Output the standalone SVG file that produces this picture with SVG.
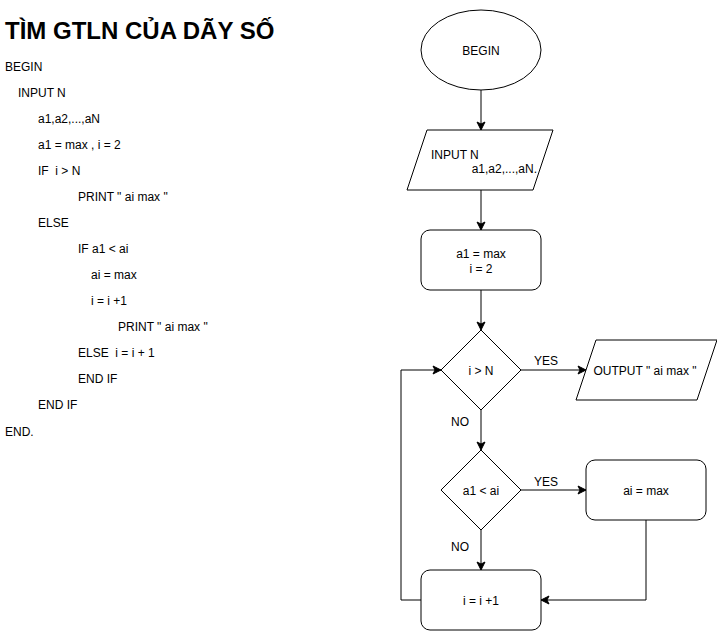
<svg xmlns="http://www.w3.org/2000/svg" width="717" height="631" viewBox="0 0 717 631">
<style>
.t{font-family:"Liberation Sans",Arial,sans-serif;font-size:12px;fill:#000}
.c{text-anchor:middle}
.s{fill:#fff;stroke:#000;stroke-width:1}
.l{fill:none;stroke:#000;stroke-width:1}
.title{font-family:"Liberation Sans",Arial,sans-serif;font-size:24px;font-weight:bold;fill:#000}
</style>
<defs>
<marker id="arr" markerUnits="userSpaceOnUse" markerWidth="10" markerHeight="10" refX="9" refY="5" orient="auto">
<path d="M1,1 L9,5 L1,9 L3,5 Z" fill="#000" stroke="#000" stroke-width="1"/>
</marker>
</defs>
<rect width="717" height="631" fill="#fff"/>
<g id="pseudocode">
<text class="title" x="5" y="39">TÌM GTLN CỦA DÃY SỐ</text>
<text class="t" x="5" y="71">BEGIN</text>
<text class="t" x="18" y="97">INPUT N</text>
<text class="t" x="38" y="123">a1,a2,...,aN</text>
<text class="t" x="38" y="149">a1 = max , i = 2</text>
<text class="t" x="38" y="175" xml:space="preserve">IF  i &gt; N</text>
<text class="t" x="78" y="201">PRINT " ai max "</text>
<text class="t" x="38" y="227">ELSE</text>
<text class="t" x="78" y="253">IF a1 &lt; ai</text>
<text class="t" x="91" y="279">ai = max</text>
<text class="t" x="91" y="305">i = i +1</text>
<text class="t" x="118" y="331">PRINT " ai max "</text>
<text class="t" x="78" y="357" xml:space="preserve">ELSE  i = i + 1</text>
<text class="t" x="78" y="383">END IF</text>
<text class="t" x="38" y="409">END IF</text>
<text class="t" x="5" y="436">END.</text>
</g>
<g id="connectors">
<path class="l" d="M481,90 L481,130" marker-end="url(#arr)"/>
<path class="l" d="M481,190 L481,230" marker-end="url(#arr)"/>
<path class="l" d="M481,290 L481,330" marker-end="url(#arr)"/>
<path class="l" d="M521,370 L586,370" marker-end="url(#arr)"/>
<path class="l" d="M481,410 L481,450" marker-end="url(#arr)"/>
<path class="l" d="M521,490 L586,490" marker-end="url(#arr)"/>
<path class="l" d="M481,530 L481,570" marker-end="url(#arr)"/>
<path class="l" d="M646,520 L646,600 L541,600" marker-end="url(#arr)"/>
<path class="l" d="M421,600 L401,600 L401,370 L441,370" marker-end="url(#arr)"/>
<text class="t c" x="546" y="365">YES</text>
<text class="t c" x="460" y="426">NO</text>
<text class="t c" x="546" y="486">YES</text>
<text class="t c" x="460" y="551">NO</text>
</g>
<g id="begin">
<ellipse class="s" cx="481" cy="50" rx="60" ry="40"/>
<text class="t c" x="481" y="55">BEGIN</text>
</g>
<g id="input">
<path class="s" d="M427,130 L553,130 L533,190 L407,190 Z"/>
<text class="t" x="431" y="159">INPUT N</text>
<text class="t" x="537" y="173" text-anchor="end">a1,a2,...,aN.</text>
</g>
<g id="init">
<rect class="s" x="421" y="230" width="120" height="60" rx="9" ry="9"/>
<text class="t c" x="481" y="258">a1 = max</text>
<text class="t c" x="481" y="273">i = 2</text>
</g>
<g id="cond1">
<path class="s" d="M481,330 L521,370 L481,410 L441,370 Z"/>
<text class="t c" x="481" y="375">i &gt; N</text>
</g>
<g id="output">
<path class="s" d="M596,340 L717,340 L697,400 L576,400 Z"/>
<text class="t c" x="645" y="375">OUTPUT " ai max "</text>
</g>
<g id="cond2">
<path class="s" d="M481,450 L521,490 L481,530 L441,490 Z"/>
<text class="t c" x="481" y="495">a1 &lt; ai</text>
</g>
<g id="assign">
<rect class="s" x="586" y="460" width="120" height="60" rx="9" ry="9"/>
<text class="t c" x="646" y="495">ai = max</text>
</g>
<g id="incr">
<rect class="s" x="421" y="570" width="120" height="60" rx="9" ry="9"/>
<text class="t c" x="481" y="605">i = i +1</text>
</g>
</svg>
